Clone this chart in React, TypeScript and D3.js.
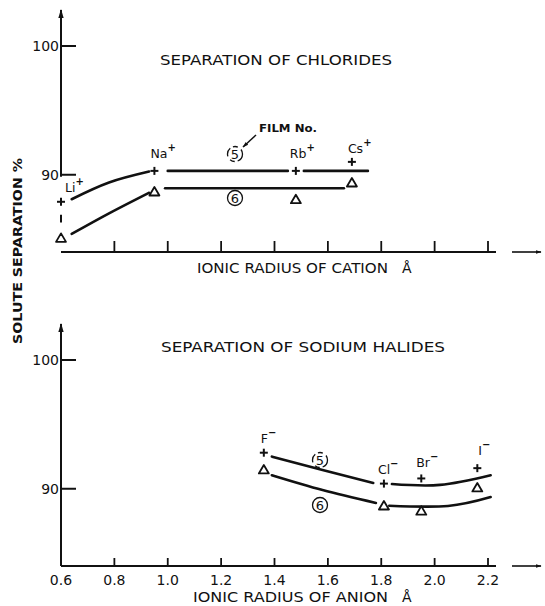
import React from 'react';
import * as d3 from 'd3';

// cation / anion radii (Å) and solute separation (%)
const cationNames = ['Li', 'Na', 'Rb', 'Cs'];
const cationRadius = [0.6, 0.95, 1.48, 1.69];
const chlorideFilm5 = [87.9, 90.3, 90.3, 91.0];
const chlorideFilm6 = [85.1, 88.7, 88.1, 89.4];

const anionNames = ['F', 'Cl', 'Br', 'I'];
const anionRadius = [1.36, 1.81, 1.95, 2.16];
const halideFilm5 = [92.8, 90.4, 90.8, 91.6];
const halideFilm6 = [91.5, 88.7, 88.3, 90.1];

// hand drawn curves, as [radius, separation] points, one list per stroke
const chlorideCurve5 = [
  [[0.64, 88.1], [0.78, 89.4], [0.93, 90.25]],
  [[1.0, 90.3], [1.45, 90.3]],
  [[1.51, 90.3], [1.75, 90.3]],
];
const chlorideCurve6 = [
  [[0.64, 85.4], [0.78, 87.0], [0.93, 88.6]],
  [[0.99, 88.95], [1.66, 88.95]],
];
const halideCurve5 = [
  [[1.39, 92.5], [1.58, 91.45], [1.77, 90.45]],
  [[1.84, 90.37], [2.02, 90.3], [2.21, 91.05]],
];
const halideCurve6 = [
  [[1.39, 91.05], [1.58, 89.9], [1.78, 88.9]],
  [[1.83, 88.68], [2.05, 88.66], [2.21, 89.35]],
];

const xTickValues = [0.6, 0.8, 1.0, 1.2, 1.4, 1.6, 1.8, 2.0, 2.2];
const xTickLabels = ['0.6', '0.8', '1.0', '1.2', '1.4', '1.6', '1.8', '2.0', '2.2'];
const yTickValues = [90, 100];

const W = 545;
const H = 606;
const ink = '#111';
const font = "'DejaVu Sans', sans-serif";

const x = d3.scaleLinear().domain([0.6, 2.2]).range([61, 488]);
const yTop = d3.scaleLinear().domain([84, 100]).range([252, 46]);
const yBot = d3.scaleLinear().domain([84, 100]).range([566, 360]);

const Plus = ({ cx, cy }: { cx: number; cy: number }) => (
  <g stroke={ink} strokeWidth={2}>
    <line x1={cx - 4} x2={cx + 4} y1={cy} y2={cy} />
    <line x1={cx} x2={cx} y1={cy - 4} y2={cy + 4} />
  </g>
);

const Tri = ({ cx, cy }: { cx: number; cy: number }) => (
  <path
    d={`M${cx},${cy - 4.5}L${cx + 5},${cy + 4}L${cx - 5},${cy + 4}Z`}
    fill="white"
    stroke={ink}
    strokeWidth={1.8}
    strokeLinejoin="round"
  />
);

const Circled = ({ cx, cy, n, dashed }: { cx: number; cy: number; n: string; dashed?: boolean }) => (
  <g>
    <circle cx={cx} cy={cy} r={7.5} fill="white" stroke={ink} strokeWidth={1.3} strokeDasharray={dashed ? '9 3 5 4' : undefined} />
    <text x={cx} y={cy + 4.5} textAnchor="middle" fontSize={13} fontFamily={font} fill={ink}>{n}</text>
  </g>
);

type Pt = number[];

const Panel = (props: {
  y: d3.ScaleLinear<number, number>;
  radius: number[];
  film5: number[];
  film6: number[];
  curve5: Pt[][];
  curve6: Pt[][];
  tickLabels: boolean;
}) => {
  const { y, radius, film5, film6, curve5, curve6, tickLabels } = props;
  const line = d3
    .line<Pt>()
    .x((d) => x(d[0]))
    .y((d) => y(d[1]))
    .curve(d3.curveNatural);
  const y0 = y(84);
  return (
    <g>
      {/* x axis */}
      <line x1={x(0.6)} x2={x(2.2) + 8} y1={y0} y2={y0} stroke={ink} strokeWidth={2} />
      <line x1={x(2.2) + 24} x2={W - 4} y1={y0} y2={y0} stroke={ink} strokeWidth={1.6} markerEnd="url(#arrowR)" />
      {xTickValues.slice(1).map((v) => (
        <line key={v} x1={x(v)} x2={x(v)} y1={y0} y2={y0 - (tickLabels ? 8 : 11)} stroke={ink} strokeWidth={1.8} />
      ))}
      {tickLabels &&
        xTickValues.map((v, i) => (
          <text key={v} x={x(v)} y={y0 + 19} textAnchor="middle" fontSize={14} fontFamily={font} fill={ink}>
            {xTickLabels[i]}
          </text>
        ))}
      {/* y axis */}
      <line
        x1={x(0.6)}
        x2={x(0.6)}
        y1={tickLabels ? y0 : y(90) + 2}
        y2={y(100) - 36}
        stroke={ink}
        strokeWidth={2}
        markerEnd="url(#arrowU)"
      />
      {!tickLabels && <line x1={x(0.6)} x2={x(0.6)} y1={y(86.9)} y2={y(86.3)} stroke={ink} strokeWidth={2} />}
      {yTickValues.map((v) => (
        <g key={v}>
          <line x1={x(0.6)} x2={x(0.6) + 15} y1={y(v)} y2={y(v)} stroke={ink} strokeWidth={2} />
          <text x={x(0.6) - 2} y={y(v) + 5} textAnchor="end" fontSize={14} fontFamily={font} fill={ink}>
            {v}
          </text>
        </g>
      ))}
      {/* fitted curves */}
      {curve5.concat(curve6).map((seg, i) => (
        <path key={i} d={line(seg) || ''} fill="none" stroke={ink} strokeWidth={2.6} strokeLinecap="round" />
      ))}
      {/* points */}
      {radius.map((r, i) => (
        <g key={r}>
          <Plus cx={x(r)} cy={y(film5[i])} />
          <Tri cx={x(r)} cy={y(film6[i])} />
        </g>
      ))}
    </g>
  );
};

// label offsets from each data point (px)
const cationLabelDx = [4, -4, -6, -4];
const cationLabelDy = [-10, -13, -13, -9];
const anionLabelDx = [-3, -6, -5, 1];
const anionLabelDy = [-10, -10, -11, -13];

const IonLabel = ({ px, py, name, sign }: { px: number; py: number; name: string; sign: string }) => (
  <text x={px} y={py} fontSize={12.5} fontFamily={font} fill={ink}>
    {name}
    <tspan dy={-7} fontSize={10} fontWeight="bold">{sign}</tspan>
  </text>
);

const App = () => {
  return (
    <div style={{ position: 'absolute', left: 0, top: 0, width: W, height: H, background: 'white' }}>
      <svg width={W} height={H} viewBox={`0 0 ${W} ${H}`}>
        <defs>
          <marker id="arrowR" viewBox="0 0 10 10" refX={9} refY={5} markerWidth={6} markerHeight={6} orient="auto" markerUnits="userSpaceOnUse">
            <path d="M0,2L10,5L0,8Z" fill={ink} />
          </marker>
          <marker id="arrowU" viewBox="0 0 10 10" refX={9} refY={5} markerWidth={9} markerHeight={9} orient="auto" markerUnits="userSpaceOnUse">
            <path d="M0,2L10,5L0,8Z" fill={ink} />
          </marker>
        </defs>
        <rect width={W} height={H} fill="white" />

        {/* y label */}
        <text
          transform="translate(22,251) rotate(-90)"
          textAnchor="middle"
          fontSize={13}
          fontWeight="bold"
          fontFamily={font}
          fill={ink}
          textLength={186}
          lengthAdjust="spacingAndGlyphs"
        >
          SOLUTE SEPARATION %
        </text>

        {/* chlorides */}
        <Panel y={yTop} radius={cationRadius} film5={chlorideFilm5} film6={chlorideFilm6} curve5={chlorideCurve5} curve6={chlorideCurve6} tickLabels={false} />
        <text x={160} y={65} fontSize={14.5} fontFamily={font} fill={ink} textLength={232} lengthAdjust="spacingAndGlyphs">
          SEPARATION OF CHLORIDES
        </text>
        <text x={197} y={273} fontSize={14} fontFamily={font} fill={ink} textLength={191} lengthAdjust="spacingAndGlyphs">
          IONIC RADIUS OF CATION
        </text>
        <text x={402} y={273} fontSize={14} fontFamily={font} fill={ink}>Å</text>
        {cationRadius.map((r, i) => (
          <IonLabel key={r} px={x(r) + cationLabelDx[i]} py={yTop(chlorideFilm5[i]) + cationLabelDy[i]} name={cationNames[i]} sign="+" />
        ))}
        <Circled cx={235} cy={154} n="5" dashed />
        <Circled cx={235} cy={198} n="6" />
        <text x={259} y={132} fontSize={10.5} fontFamily={font} fontWeight="bold" fill={ink} textLength={58} lengthAdjust="spacingAndGlyphs">
          FILM No.
        </text>
        <line x1={256} y1={135} x2={243} y2={147} stroke={ink} strokeWidth={1.5} markerEnd="url(#arrowR)" />

        {/* sodium halides */}
        <Panel y={yBot} radius={anionRadius} film5={halideFilm5} film6={halideFilm6} curve5={halideCurve5} curve6={halideCurve6} tickLabels />
        <text x={161} y={352} fontSize={14.5} fontFamily={font} fill={ink} textLength={284} lengthAdjust="spacingAndGlyphs">
          SEPARATION OF SODIUM HALIDES
        </text>
        <text x={193} y={602} fontSize={14} fontFamily={font} fill={ink} textLength={195} lengthAdjust="spacingAndGlyphs">
          IONIC RADIUS OF ANION
        </text>
        <text x={402} y={602} fontSize={14} fontFamily={font} fill={ink}>Å</text>
        {anionRadius.map((r, i) => (
          <IonLabel key={r} px={x(r) + anionLabelDx[i]} py={yBot(halideFilm5[i]) + anionLabelDy[i]} name={anionNames[i]} sign="−" />
        ))}
        <Circled cx={320} cy={460} n="5" dashed />
        <Circled cx={320} cy={505} n="6" />
      </svg>
    </div>
  );
};

export default App;
